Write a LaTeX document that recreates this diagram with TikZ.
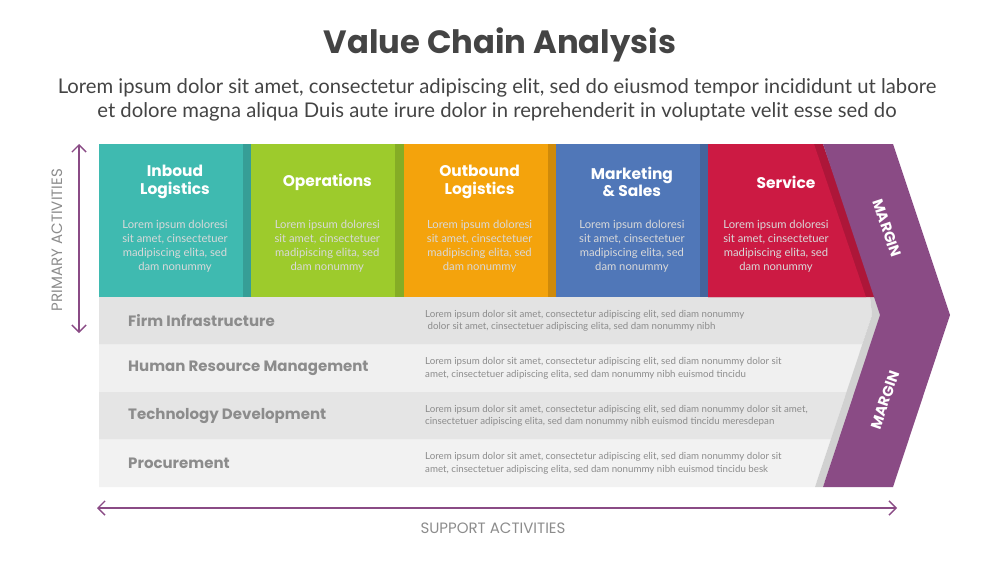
\documentclass[tikz,border=0pt]{standalone}
\usepackage{fontspec}
\setmainfont{Lato}
\newfontfamily\pop{Poppins}
\usetikzlibrary{positioning,arrows.meta,calc}

\definecolor{cTeal}{HTML}{3FBAB0}
\definecolor{cGreen}{HTML}{9DCB2C}
\definecolor{cOrange}{HTML}{F4A30C}
\definecolor{cBlue}{HTML}{5077B8}
\definecolor{cRed}{HTML}{CC1A43}
\definecolor{cPurple}{HTML}{8A4B85}
\definecolor{cText}{HTML}{444444}
\definecolor{cGrey}{HTML}{8C8C8C}

\tikzset{
  coltitle/.style={font=\pop\bfseries\fontsize{13.2}{15}\selectfont, text=white, align=center},
  colbody/.style={font=\fontsize{9.6}{12}\selectfont, text=white!85!black, align=center},
  rowlabel/.style={font=\pop\bfseries\fontsize{12.8}{14}\selectfont, text=cGrey, anchor=west, inner sep=0pt},
  rowbody/.style={font=\fontsize{8.3}{10.5}\selectfont, text=cGrey, align=left, anchor=west, inner sep=0pt},
  axisarrow/.style={{Straight Barb[length=6pt,width=12pt]}-{Straight Barb[length=6pt,width=12pt]}, cPurple, line width=1.2pt},
  axislabel/.style={font=\pop\fontsize{12.8}{14}\selectfont, text=cGrey},
  marginlabel/.style={font=\pop\bfseries\fontsize{12.5}{14}\selectfont, text=white, inner sep=0pt}
}

\begin{document}
\begin{tikzpicture}[x=0.03cm,y=-0.03cm]
\useasboundingbox (0,0) rectangle (1000,563);

% title
\node[font=\pop\bfseries\fontsize{27.5}{32}\selectfont, text=cText] (title) at (500,45) {Value Chain Analysis};
\node[font=\fontsize{17.3}{21}\selectfont, text=cText, align=center] (subtitle) at (497,100)
  {Lorem ipsum dolor sit amet, consectetur adipiscing elit, sed do eiusmod tempor incididunt ut labore\\
   et dolore magna aliqua Duis aute irure dolor in reprehenderit in voluptate velit esse sed do};

% support rows
\foreach \i/\shade/\lab/\txta/\txtb in {
  0/89/Firm Infrastructure/{Lorem ipsum dolor sit amet, consectetur adipiscing elit, sed diam nonummy}/{\ dolor sit amet, cinsectetuer adipiscing elita, sed dam nonummy nibh},
  1/94/Human Resource Management/{Lorem ipsum dolor sit amet, consectetur adipiscing elit, sed diam nonummy dolor sit}/{amet, cinsectetuer adipiscing elita, sed dam nonummy nibh euismod tincidu},
  2/90/Technology Development/{Lorem ipsum dolor sit amet, consectetur adipiscing elit, sed diam nonummy dolor sit amet,}/{cinsectetuer adipiscing elita, sed dam nonummy nibh euismod tincidu meresdepan},
  3/95/Procurement/{Lorem ipsum dolor sit amet, consectetur adipiscing elit, sed diam nonummy dolor sit}/{amet, cinsectetuer adipiscing elita, sed dam nonummy nibh euismod tincidu besk}}{
  \pgfmathsetmacro{\ya}{297+47.5*\i}
  \pgfmathsetmacro{\yb}{297+47.5*(\i+1)}
  \pgfmathsetmacro{\xa}{\ya<315 ? 870+(\ya-297)*0.11 : 872-(\ya-315)*0.331}
  \pgfmathsetmacro{\xb}{\yb<315 ? 870+(\yb-297)*0.11 : 872-(\yb-315)*0.331}
  \fill[white!\shade!black] (99,\ya) -- (\xa,\ya) \ifnum\i=0 -- (872,315)\fi -- (\xb,\yb) -- (99,\yb) -- cycle;
  \node[rowlabel] (row\i) at (128,{(\ya+\yb)/2}) {\lab};
  \node[rowbody] (rowtxt\i) at (425,{(\ya+\yb)/2}) {\txta\\\txtb};
}
% shadow edge of the chevron notch
\fill[black!18] (870,297) -- (877,297) -- (882,315) -- (823,487) -- (815,487) -- (872,315) -- cycle;

% primary activities
\foreach \i/\col/\ttl in {0/cTeal/{Inboud\\Logistics}, 1/cGreen/Operations, 2/cOrange/{Outbound\\Logistics}, 3/cBlue/{Marketing\\\& Sales}}{
  \pgfmathsetmacro{\xl}{99+152.3*\i}
  \fill[\col] (\xl,144) rectangle ++(152.3,153);
  \fill[\col!85!black] (\xl+144,144) rectangle ++(8.3,153);
  \node[coltitle] (col\i) at (\xl+76,182) {\ttl};
  \node[colbody] (colbody\i) at (\xl+76,246) {Lorem ipsum doloresi\\sit amet, cinsectetuer\\madipiscing elita, sed\\dam nonummy};
}
\fill[cRed!85!black] (708,144) -- (823,144) -- (877,297) -- (708,297) -- cycle;
\fill[cRed] (708,144) -- (814,144) -- (866,297) -- (708,297) -- cycle;
\node[coltitle] (col4) at (786,182) {Service};
\node[colbody] (colbody4) at (776,246) {Lorem ipsum doloresi\\sit amet, cinsectetuer\\madipiscing elita, sed\\dam nonummy};

% margin chevron
\fill[cPurple] (823,144) -- (893,144) -- (950,315) -- (893,487) -- (823,487) -- (880,315) -- cycle;
\node[marginlabel, rotate=-71.5] (margin1) at (887,228) {MARGIN};
\node[marginlabel, rotate=71] (margin2) at (885,400) {MARGIN};

% axes
\coordinate (ptop) at (79,144);
\coordinate (pbot) at (79,333);
\coordinate (sleft) at (97,508);
\coordinate (sright) at (897,508);
\draw[axisarrow] (ptop) -- (pbot);
\draw[axisarrow] (sleft) -- (sright);
\node[axislabel, rotate=90] (primlab) at (57,240) {PRIMARY ACTIVITIES};
\node[axislabel] (supplab) at (493,528) {SUPPORT ACTIVITIES};
\end{tikzpicture}
\end{document}
